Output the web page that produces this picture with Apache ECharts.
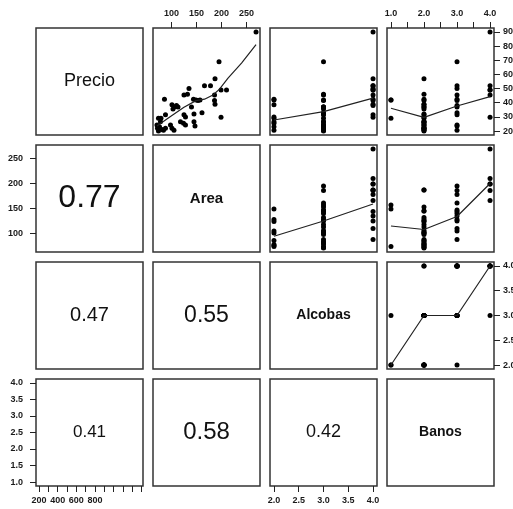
<!DOCTYPE html>
<html><head><meta charset="utf-8">
<script src="https://cdn.jsdelivr.net/npm/echarts@6/dist/echarts.min.js"></script>
<style>html,body{margin:0;padding:0;background:#fff}#c{width:513px;height:509px}</style>
</head><body><div id="c"></div>
<script>
// ---------- data ----------
const varNames = ['Precio', 'Area', 'Alcobas', 'Banos'];
const precio  = [90, 69, 57, 52, 52, 50, 45.5, 46, 49, 49, 42.5, 42.5, 42, 41.5, 42, 45.5, 41.5, 39, 38.5, 37, 38, 37, 35.5, 37, 33, 32, 31.5, 30, 31.5, 29, 29.7, 26.5, 25.5, 24.3, 26.5, 23.6, 29, 26.6, 24.3, 23, 22, 21, 20, 24.3, 22, 20.5, 22, 20.5];
const area    = [269, 195, 187, 166, 178, 135, 125, 132, 199, 210, 86, 144, 149, 153, 157, 186, 186, 187, 101, 106, 110, 113, 103, 140, 161, 145, 125, 128, 88, 79, 199, 118, 124, 128, 145, 147, 74, 78, 71, 76, 72, 81, 74, 98, 101, 105, 88, 84];
const alcobas = [4, 3, 4, 4, 4, 4, 4, 3, 4, 4, 2, 4, 2, 3, 3, 3, 4, 4, 2, 3, 4, 3, 3, 3, 3, 3, 3, 2, 4, 3, 4, 3, 2, 3, 3, 3, 2, 2, 3, 2, 3, 3, 3, 3, 3, 2, 3, 3];
const banos   = [4, 3, 2, 4, 3, 3, 3, 2, 4, 4, 2, 3, 1, 2, 1, 4, 3, 2, 2, 2, 3, 2, 2, 3, 3, 2, 2, 2, 3, 2, 4, 2, 2, 3, 2, 3, 1, 2, 2, 2, 2, 2, 2, 2, 2, 3, 2, 2];

// correlations shown in the lower panels
const corrPrecioArea = '0.77', corrPrecioAlcobas = '0.47', corrPrecioBanos = '0.41';
const corrAreaAlcobas = '0.55', corrAreaBanos = '0.58', corrAlcobasBanos = '0.42';

// smoother lines
const smoothAreaX        = [71, 98, 125, 149, 166, 183, 196, 213, 240, 269];
const smoothPrecioOnArea = [23.6, 30.2, 36.8, 41.5, 42.5, 45.5, 49.6, 57.4, 68, 81];
const alcobasLevels      = [2, 3, 4];
const banosLevels        = [1, 2, 3, 4];
const smoothPrecioOnAlc  = [27.8, 33.7, 43.2];
const smoothPrecioOnBan  = [36.1, 29.7, 37.7, 44.3];
const smoothAreaOnAlc    = [94.5, 125, 159];
const smoothAreaOnBan    = [115, 108, 134, 200];
const smoothAlcOnBan     = [2, 3, 3, 4];

// tick values / labels
const precioTicks = [20, 30, 40, 50, 60, 70, 80, 90];
const areaTicks = [100, 150, 200, 250];
const alcobasTicks = [2, 2.5, 3, 3.5, 4];
const banosTicks = [1, 1.5, 2, 2.5, 3, 3.5, 4];
const banosTopLabels = [1, 2, 3, 4];
const bottomTicks = [200, 300, 400, 500, 600, 700, 800, 900, 1000, 1100, 1200, 1300];
const bottomLabels = [200, 400, 600, 800];

// ---------- layout / style ----------
const colLeft = [36, 153, 270, 387];
const rowTop = [28, 145, 262, 379];
const PANEL = 107;
const bottomRange = [168, 1315];

const vars = [precio, area, alcobas, banos];
function padRange(arr) { const mn = Math.min(...arr), mx = Math.max(...arr), e = (mx - mn) * 0.04; return [mn - e, mx + e]; }
const ranges = vars.map(padRange);

const corrMap = { '10': corrPrecioArea, '20': corrPrecioAlcobas, '30': corrPrecioBanos, '21': corrAreaAlcobas, '31': corrAreaBanos, '32': corrAlcobasBanos };
const smoothMap = {
  '01': [smoothAreaX, smoothPrecioOnArea],
  '02': [alcobasLevels, smoothPrecioOnAlc],
  '03': [banosLevels, smoothPrecioOnBan],
  '12': [alcobasLevels, smoothAreaOnAlc],
  '13': [banosLevels, smoothAreaOnBan],
  '23': [banosLevels, smoothAlcOnBan]
};
const nameStyle = {
  Precio: { fontSize: 18, fontWeight: 'normal' },
  Area: { fontSize: 15, fontWeight: 'bold' },
  Alcobas: { fontSize: 14, fontWeight: 'bold' },
  Banos: { fontSize: 14, fontWeight: 'bold' }
};
const labelFont = { fontFamily: '"Liberation Sans Narrow","Liberation Sans",Arial,sans-serif', fontWeight: 'bold', fontSize: 9, color: '#1a1a1a' };
const textFont = '"Liberation Sans",Arial,sans-serif';

function showAxis(ax, pos, ticks, labels, dec, margin) {
  Object.assign(ax, {
    show: true, position: pos,
    axisLine: { show: false }, splitLine: { show: false },
    axisTick: { show: true, inside: false, length: 6, lineStyle: { color: '#222', width: 1 }, customValues: ticks },
    axisLabel: Object.assign({ show: true, margin: margin, customValues: labels, formatter: v => Number(v).toFixed(dec) }, labelFont)
  });
}

const grids = [], xAxes = [], yAxes = [], series = [];
for (let r = 0; r < 4; r++) {
  for (let c = 0; c < 4; c++) {
    const g = r * 4 + c;
    grids.push({ left: colLeft[c], top: rowTop[r], width: PANEL, height: PANEL, show: true, borderColor: '#333', borderWidth: 1.5, backgroundColor: 'transparent', outerBoundsMode: 'none' });
    const xr = (r === 3 && c === 0) ? bottomRange : ranges[c];
    const yr = ranges[r];
    const xa = { type: 'value', gridIndex: g, min: xr[0], max: xr[1], show: false };
    const ya = { type: 'value', gridIndex: g, min: yr[0], max: yr[1], show: false };
    if (r === 0 && c === 1) showAxis(xa, 'top', areaTicks, areaTicks, 0, 10);
    if (r === 0 && c === 3) showAxis(xa, 'top', banosTicks, banosTopLabels, 1, 10);
    if (r === 3 && c === 0) showAxis(xa, 'bottom', bottomTicks, bottomLabels, 0, 10);
    if (r === 3 && c === 2) showAxis(xa, 'bottom', alcobasTicks, alcobasTicks, 1, 10);
    if (c === 3 && r === 0) showAxis(ya, 'right', precioTicks, precioTicks, 0, 9);
    if (c === 3 && r === 2) showAxis(ya, 'right', alcobasTicks, alcobasTicks, 1, 9);
    if (c === 0 && r === 1) showAxis(ya, 'left', areaTicks, areaTicks, 0, 13);
    if (c === 0 && r === 3) showAxis(ya, 'left', banosTicks, banosTicks, 1, 13);
    xAxes.push(xa); yAxes.push(ya);

    const center = [(xr[0] + xr[1]) / 2, (yr[0] + yr[1]) / 2];
    if (r === c) {
      const st = nameStyle[varNames[r]];
      series.push({ type: 'scatter', xAxisIndex: g, yAxisIndex: g, symbolSize: 0, silent: true, itemStyle: { opacity: 1 }, data: [center],
        label: { show: true, position: 'inside', formatter: varNames[r], fontFamily: textFont, fontSize: st.fontSize, fontWeight: st.fontWeight, color: '#111' } });
    } else if (r > c) {
      const txt = corrMap['' + r + c];
      series.push({ type: 'scatter', xAxisIndex: g, yAxisIndex: g, symbolSize: 0, silent: true, itemStyle: { opacity: 1 }, data: [center],
        label: { show: true, position: 'inside', formatter: txt, fontFamily: textFont, fontSize: Math.round(42 * Number(txt)), color: '#111' } });
    } else {
      const xs = vars[c], ys = vars[r];
      series.push({ type: 'scatter', xAxisIndex: g, yAxisIndex: g, symbolSize: 5, silent: true,
        itemStyle: { color: '#000', opacity: 1 }, data: xs.map((v, k) => [v, ys[k]]) });
      const sm = smoothMap['' + r + c];
      series.push({ type: 'line', xAxisIndex: g, yAxisIndex: g, symbol: 'none', silent: true,
        lineStyle: { color: '#222', width: 1.2 }, data: sm[0].map((v, k) => [v, sm[1][k]]) });
    }
  }
}

const chart = echarts.init(document.getElementById('c'), null, { renderer: 'canvas' });
chart.setOption({ animation: false, backgroundColor: '#fff', grid: grids, xAxis: xAxes, yAxis: yAxes, series: series });
</script></body></html>
